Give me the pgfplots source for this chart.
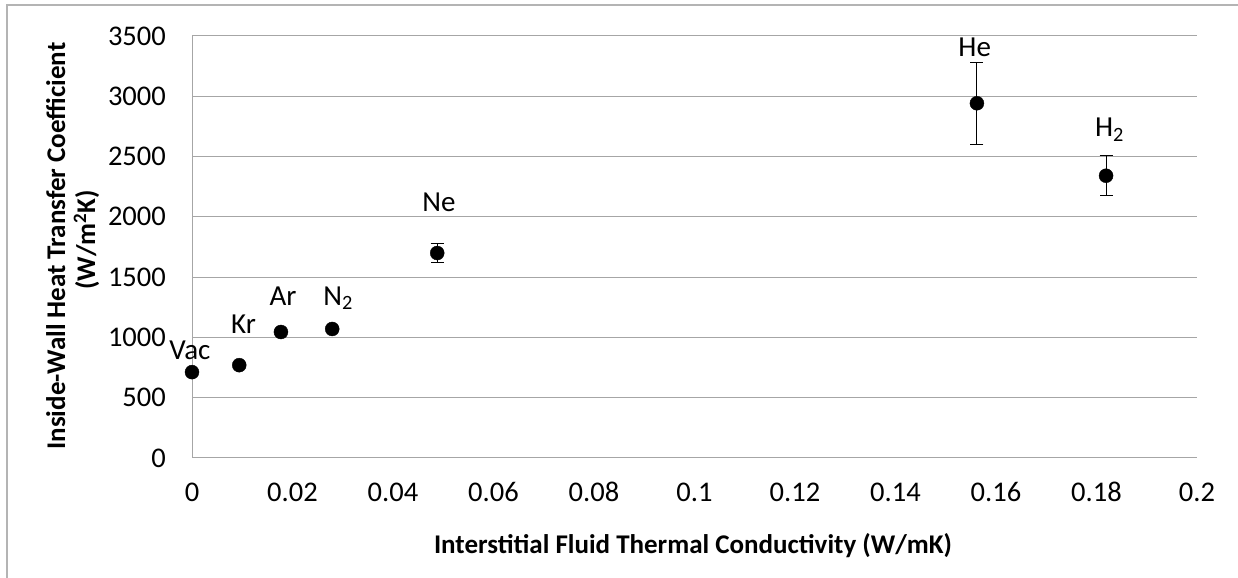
\documentclass[border=0pt]{standalone}
\usepackage{pgfplots}
\pgfplotsset{compat=1.18}
\usepackage{pgfplotstable}
\usepackage{fontspec}
\setmainfont{Carlito}
\definecolor{gridgray}{RGB}{166,166,166}
\definecolor{bordergray}{RGB}{180,180,180}
\pgfplotstableread{
x       y     ep   em
0       712   0    0
0.0094  770   0    0
0.0177  1045  0    0
0.0279  1070  0    0
0.0488  1700  75   77
0.1562  2942  340  338
0.1819  2341  168  165
}\datatable
\begin{document}
\begin{tikzpicture}[x=1bp,y=1bp]
\useasboundingbox (0,0) rectangle (1238,578);
\draw[bordergray, line width=1.2bp] (7,-5) -- (7,573) -- (1250,573);
\begin{axis}[
  at={(192bp,120bp)}, anchor=south west,
  scale only axis, width=1005bp, height=422bp,
  xmin=0, xmax=0.2, ymin=0, ymax=3500,
  xtick={0,0.02,0.04,0.06,0.08,0.1,0.12,0.14,0.16,0.18,0.2},
  xticklabels={0,0.02,0.04,0.06,0.08,0.1,0.12,0.14,0.16,0.18,0.2},
  ytick={0,500,1000,1500,2000,2500,3000,3500},
  yticklabels={0,500,1000,1500,2000,2500,3000,3500},
  axis x line*=bottom, axis y line*=left,
  axis line style={gridgray, line width=1bp, -},
  ymajorgrids, grid style={gridgray, line width=1bp},
  major tick length=0pt,
  tick label style={font=\fontsize{28.5bp}{32bp}\selectfont, inner sep=0pt},
  xticklabel style={anchor=base, yshift=-43.7bp},
  yticklabel style={anchor=east, xshift=-26bp},
  clip=false,
]
\addplot[only marks, mark=*, mark size=7bp, black,
  error bars/.cd, y dir=both, y explicit,
  error bar style={black, line width=1bp},
  error mark options={black, mark size=6.5bp, line width=1bp, rotate=90}]
  table[x=x, y=y, y error plus=ep, y error minus=em] {\datatable};
\begin{scope}[every node/.style={font=\fontsize{29bp}{32bp}\selectfont, anchor=base, inner sep=0pt}]
\node at (axis cs:-0.0004,820) {Vac};
\node at (axis cs:0.01025,1035) {Kr};
\node at (axis cs:0.0181,1267) {Ar};
\node at (axis cs:0.0291,1267) {N\textsubscript{2}};
\node at (axis cs:0.04915,2047) {Ne};
\node at (axis cs:0.15576,3326) {He};
\node at (axis cs:0.1826,2665) {H\textsubscript{2}};
\end{scope}
\end{axis}
\begin{scope}[every node/.style={font=\bfseries\fontsize{27bp}{30bp}\selectfont, inner sep=0pt, anchor=base}]
\node at (693,24) {Interstitial Fluid Thermal Conductivity (W/mK)};
\node[rotate=90] at (65,332) {Inside-Wall Heat Transfer Coefficient};
\node[rotate=90] at (95,338) {(W/m\textsuperscript{2}K)};
\end{scope}
\end{tikzpicture}
\end{document}
